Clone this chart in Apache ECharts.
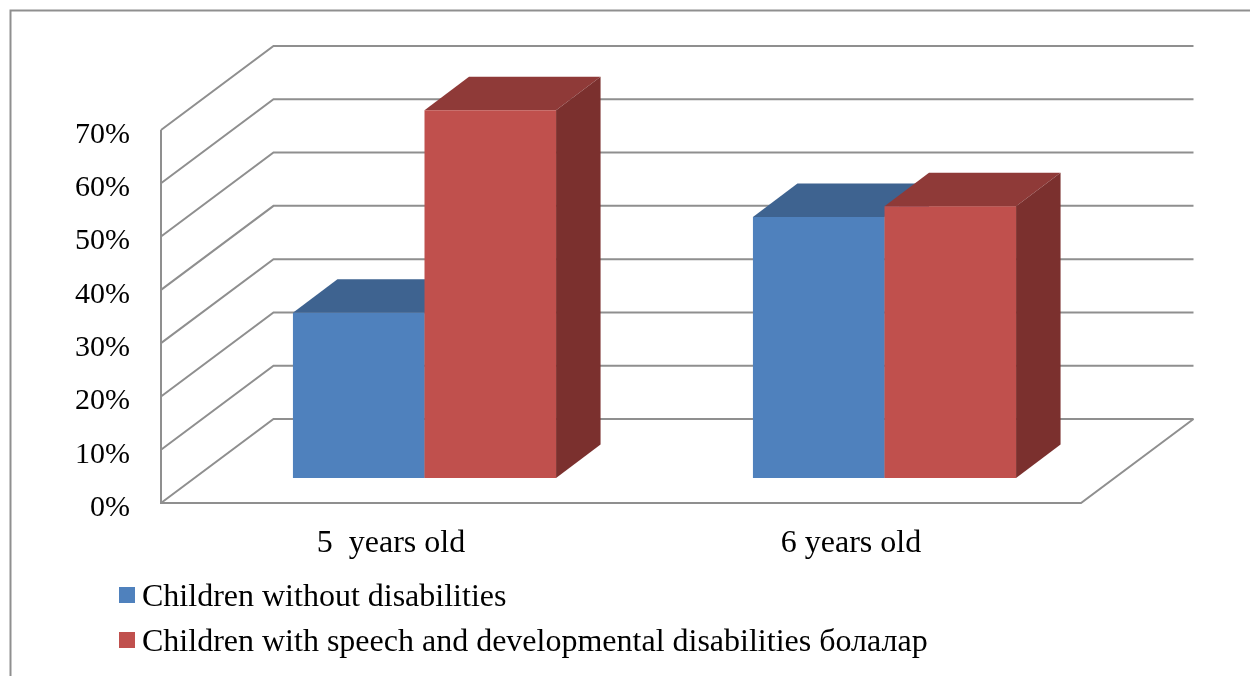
<!DOCTYPE html>
<html>
<head>
<meta charset="utf-8">
<style>html,body{margin:0;background:#fff}#chart{width:1250px;height:676px}</style>
<script src="https://cdn.jsdelivr.net/npm/echarts@6/dist/echarts.min.js"></script>
</head>
<body>
<div id="chart"></div>
<script>
// Share of children per age group, in percent
const categories = ['5  years old', '6 years old'];
const yTicks = [0, 10, 20, 30, 40, 50, 60, 70];
const withoutDisabilities = [31, 49];
const withDisabilities = [69, 51];
const seriesNames = [
  'Children without disabilities',
  'Children with speech and developmental disabilities болалар'
];

// Pseudo-3D projection: offsets in pixels for the wall, the bar plane and the bar depth
const wall = { dx: 112.5, dy: -84 };
const barPlane = { dx: 33.5, dy: -25 };
const barDepth = { dx: 44.5, dy: -33.5 };
const barShare = 0.286;
const lineGrey = '#8f8f8f';
const serif = '"Liberation Serif", "Times New Roman", serif';

const chart = echarts.init(document.getElementById('chart'));

// Gridlines on the side and back walls, one per tick
function renderWall(params, api) {
  const v = api.value(0);
  const a = api.coord([0, v]);
  const left = params.coordSys.x;
  const right = left + params.coordSys.width;
  const y = a[1];
  return {
    type: 'polyline',
    silent: true,
    shape: { points: [[left, y], [left + wall.dx, y + wall.dy], [right + wall.dx, y + wall.dy]] },
    style: { fill: null, stroke: lineGrey, lineWidth: 2 }
  };
}

// Floor outline and the vertical edge of the side wall
function renderFrame(params, api) {
  const cs = params.coordSys;
  const bottom = cs.y + cs.height;
  const right = cs.x + cs.width;
  return {
    type: 'polyline',
    silent: true,
    shape: { points: [[cs.x, cs.y], [cs.x, bottom], [right, bottom], [right + wall.dx, bottom + wall.dy]] },
    style: { fill: null, stroke: lineGrey, lineWidth: 2 }
  };
}

// Builds a box (front, top, side faces); side = 0 sits left of the band centre, 1 right of it
function boxRenderer(side, front, top, flank) {
  return function (params, api) {
    const base = api.coord([api.value(0), 0]);
    const head = api.coord([api.value(0), api.value(1)]);
    const w = api.size([1, 0])[0] * barShare;
    const x0 = base[0] + barPlane.dx + (side - 1) * w;
    const x1 = x0 + w;
    const yb = base[1] + barPlane.dy;
    const yt = head[1] + barPlane.dy;
    const dx = barDepth.dx, dy = barDepth.dy;
    return {
      type: 'group',
      children: [
        { type: 'polygon', shape: { points: [[x0, yt], [x0 + dx, yt + dy], [x1 + dx, yt + dy], [x1, yt]] }, style: { fill: top } },
        { type: 'polygon', shape: { points: [[x1, yt], [x1 + dx, yt + dy], [x1 + dx, yb + dy], [x1, yb]] }, style: { fill: flank } },
        { type: 'rect', shape: { x: x0, y: yt, width: w, height: yb - yt }, style: { fill: front } }
      ]
    };
  };
}

const pairs = arr => arr.map((v, i) => [i, v]);

chart.setOption({
  animation: false,
  backgroundColor: '#fff',
  grid: { left: 161, top: 130, width: 920, height: 373, containLabel: false },
  xAxis: {
    type: 'category',
    data: categories,
    axisLine: { show: false },
    axisTick: { show: false },
    axisLabel: { color: '#000', fontFamily: serif, fontSize: 32, margin: 25 }
  },
  yAxis: {
    type: 'value',
    min: 0,
    max: 70,
    interval: 10,
    axisLine: { show: false },
    axisTick: { show: false },
    splitLine: { show: false },
    axisLabel: { color: '#000', fontFamily: serif, fontSize: 30, margin: 31, formatter: '{value}%', verticalAlign: 'top', lineHeight: 10 }
  },
  legend: {
    left: 114,
    top: 571.5,
    orient: 'vertical',
    itemWidth: 16,
    itemHeight: 16,
    itemGap: 8,
    icon: 'rect',
    selectedMode: false,
    data: seriesNames,
    formatter: name => `{t|${name}}`,
    textStyle: {
      rich: { t: { color: '#000', fontFamily: serif, fontSize: 32, lineHeight: 32, padding: [5, 0, 0, 2] } }
    }
  },
  graphic: [
    // Outer border of the chart area, open towards the right and the bottom
    {
      type: 'polyline',
      silent: true,
      shape: { points: [[10.5, 676], [10.5, 10.5], [1250, 10.5]] },
      style: { fill: null, stroke: lineGrey, lineWidth: 2 }
    }
  ],
  series: [
    { type: 'custom', silent: true, z: 1, data: yTicks.map(v => [v]), encode: { y: 0 }, renderItem: renderWall },
    { type: 'custom', silent: true, z: 1, data: [[0]], renderItem: renderFrame },
    {
      type: 'custom', name: seriesNames[0], z: 2, silent: true,
      itemStyle: { color: '#4F81BD' },
      encode: { x: 0, y: 1 },
      data: pairs(withoutDisabilities),
      renderItem: boxRenderer(0, '#4F81BD', '#3E6390', '#34547B')
    },
    {
      type: 'custom', name: seriesNames[1], z: 3, silent: true,
      itemStyle: { color: '#C0504D' },
      encode: { x: 0, y: 1 },
      data: pairs(withDisabilities),
      renderItem: boxRenderer(1, '#C0504D', '#8F3A38', '#7B302E')
    }
  ]
});
</script>
</body>
</html>
